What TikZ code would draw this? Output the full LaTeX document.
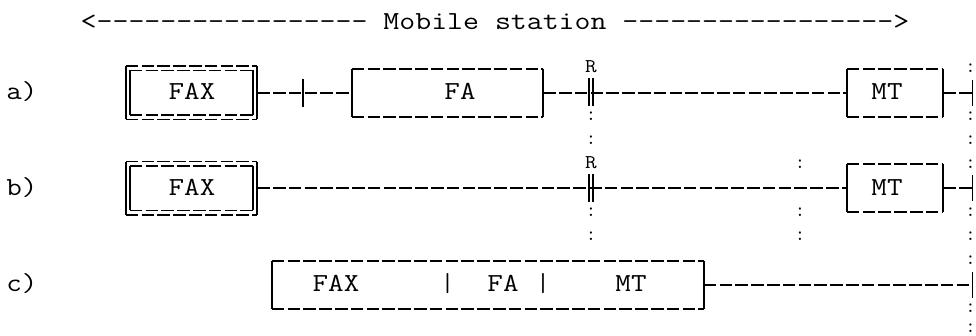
\documentclass[tikz,border=0pt]{standalone}
\usepackage{fontspec}
\newcommand\openbox[2][side]{%
  \draw[edge] (#2.north west) -- (#2.north east);
  \draw[edge] (#2.south west) -- (#2.south east);
  \draw[#1] (#2.north west) -- (#2.south west);
  \draw[#1] (#2.north east) -- (#2.south east);}
\newcommand\wide[1]{\scalebox{1.16}[1]{#1}}
\begin{document}
\begin{tikzpicture}[x=1pt,y=-1pt,
  txt/.style={font=\ttfamily\fontsize{26}{28}\selectfont, inner sep=0pt, anchor=base},
  smalltxt/.style={font=\ttfamily\fontsize{19.5}{22}\selectfont, inner sep=0pt, anchor=base},
  dottxt/.style={font=\ttfamily\fontsize{20}{22}\selectfont, inner sep=0pt, anchor=base},
  edge/.style={line width=1.9pt, dash pattern=on 12.6pt off 3.2pt},
  side/.style={line width=1.9pt},
  thinside/.style={line width=1.6pt},
  thinedge/.style={line width=1.6pt, dash pattern=on 12.6pt off 3.2pt},
  area/.style={rectangle, draw=none, inner sep=0pt, minimum width=#1},
  tall/.style={minimum height=47.8pt},
]
\useasboundingbox (0,0) rectangle (976,336);
\fill[white] (0,0) rectangle (976,336);

% title
\node[txt] (title) at (495,29.5) {\scalebox{1.19}[1]{<----------------- Mobile station ----------------->}};

% row labels
\node[txt] (la) at (21.8,100) {\wide{a)}};
\node[txt] (lb) at (21.8,195.6) {\wide{b)}};
\node[txt] (lc) at (21.8,291.2) {\wide{c)}};

% ---------- row a ----------
\node[area=131pt, minimum height=53pt] (faxAo) at (191.5,92.7) {};
\node[area=123pt, minimum height=44pt] (faxAi) at (191.5,92.7) {};
\node[area=191pt, tall] (faA) at (447.5,92.7) {};
\node[area=96pt, tall] (mtA) at (895,92.7) {};
\begin{scope}[edge/.style=thinedge]
\openbox[thinside]{faxAo}\openbox[thinside]{faxAi}
\end{scope}
\openbox{faA}\openbox{mtA}
\node[txt] (faxAl) at (192,100) {\wide{FAX}};
\node[txt] (faAl) at (460,100) {\wide{FA}};
\node[txt] (mtAl) at (887,100) {\wide{MT}};
\coordinate (tickA) at (303,92.7);
\coordinate (rA) at (591,92.7);
\coordinate (edgeA) at (972.5,92.7);
\draw[edge] (faxAo.east) -- (faA.west);
\draw[edge] (faA.east) -- (mtA.west);
\draw[edge] (mtA.east) -- (edgeA);
\draw[side] (tickA) ++(0,-14) -- ++(0,28.5);
\draw[thinside] ([xshift=-2.2pt]rA) ++(0,-14.5) -- ++(0,28);
\draw[thinside] ([xshift=2.2pt]rA) ++(0,-14.5) -- ++(0,28);
\draw[side] (edgeA) ++(0,-13) -- ++(0,26);
\node[smalltxt] (rAl) at (591,73) {\wide{R}};

% ---------- row b ----------
\node[area=131pt, minimum height=53pt] (faxBo) at (191.5,188.3) {};
\node[area=123pt, minimum height=44pt] (faxBi) at (191.5,188.3) {};
\node[area=96pt, tall] (mtB) at (895,188.3) {};
\begin{scope}[edge/.style=thinedge]
\openbox[thinside]{faxBo}\openbox[thinside]{faxBi}
\end{scope}
\openbox{mtB}
\node[txt] (faxBl) at (192,195.6) {\wide{FAX}};
\node[txt] (mtBl) at (887,195.6) {\wide{MT}};
\coordinate (rB) at (591,188.3);
\coordinate (edgeB) at (972.5,188.3);
\draw[edge] (faxBo.east) -- (mtB.west);
\draw[edge] (mtB.east) -- (edgeB);
\draw[thinside] ([xshift=-2.2pt]rB) ++(0,-14.5) -- ++(0,28);
\draw[thinside] ([xshift=2.2pt]rB) ++(0,-14.5) -- ++(0,28);
\draw[side] (edgeB) ++(0,-13) -- ++(0,26);
\node[smalltxt] (rBl) at (591,168.6) {\wide{R}};

% ---------- row c ----------
\node[area=431.5pt, tall] (cbox) at (487.75,285) {};
\openbox{cbox}
\node[txt] (cfax) at (336,291.2) {\wide{FAX}};
\node[txt] (cbar1) at (447.5,291.2) {|};
\node[txt] (cfa) at (503,291.2) {\wide{FA}};
\node[txt] (cbar2) at (543,291.2) {|};
\node[txt] (cmt) at (631,291.2) {\wide{MT}};
\coordinate (edgeC) at (972.5,285);
\draw[edge] (cbox.east) -- (edgeC);
\draw[side] (edgeC) ++(0,-13) -- ++(0,26);

% ---------- colons ----------
\foreach \yy [count=\i] in {120.9,144.9,216.7,240.7}
  \node[dottxt] (cr\i) at (591,\yy) {:};
\foreach \yy [count=\i] in {168.8,216.7,240.7}
  \node[dottxt] (cm\i) at (800,\yy) {:};
\foreach \yy [count=\i] in {73,120.9,144.9,168.8,216.7,240.7,264.6,312.5,332}
  \node[dottxt] (ce\i) at (970.5,\yy) {:};
\end{tikzpicture}
\end{document}
